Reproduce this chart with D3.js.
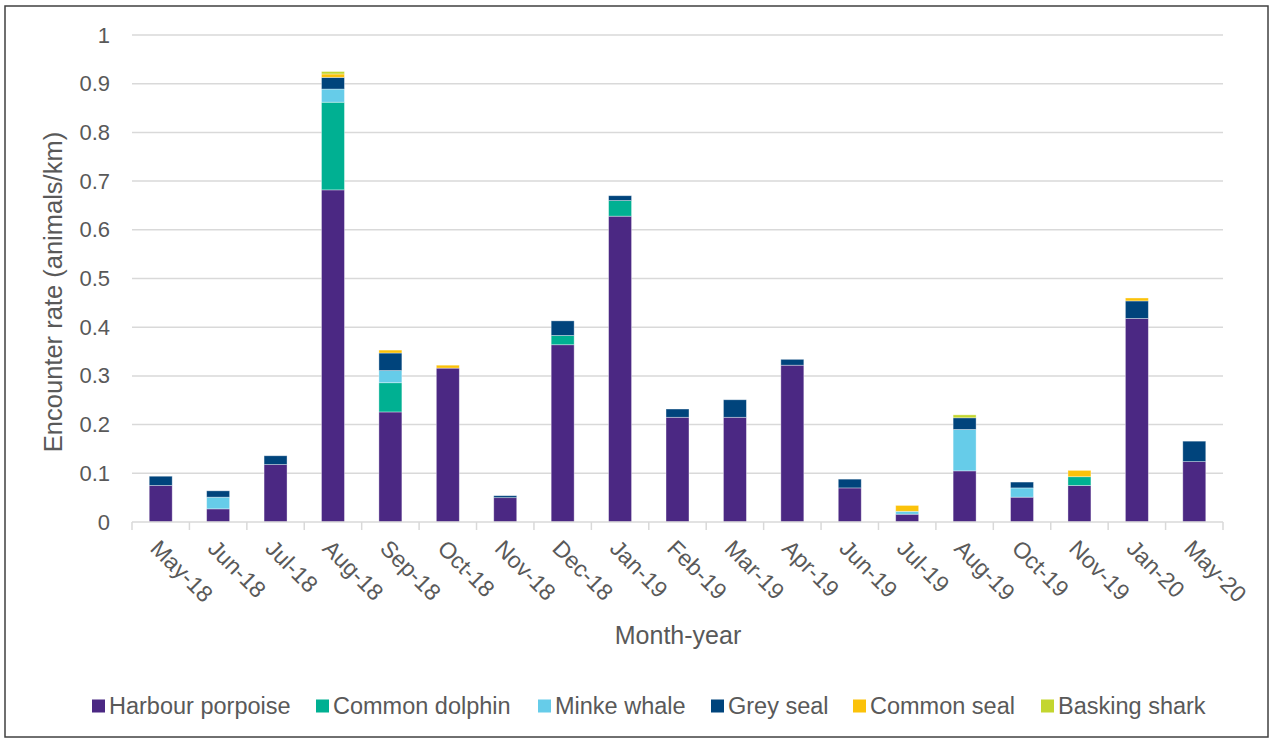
<!DOCTYPE html>
<html>
<head>
<meta charset="utf-8">
<script src="https://cdn.jsdelivr.net/npm/d3@7"></script>
<style>
  body { margin: 0; background: #fff; }
  text { font-family: "Liberation Sans", Arial, sans-serif; fill: #595959; }
</style>
</head>
<body>
<div id="chart"></div>
<script>
let width = 1273
let height = 740

// -- data
let months = ['May-18','Jun-18','Jul-18','Aug-18','Sep-18','Oct-18','Nov-18','Dec-18','Jan-19','Feb-19',
              'Mar-19','Apr-19','Jun-19','Jul-19','Aug-19','Oct-19','Nov-19','Jan-20','May-20']
let harbourPorpoise = [0.075,0.027,0.118,0.682,0.226,0.316,0.050,0.364,0.628,0.215,0.215,0.322,0.070,0.016,0.105,0.051,0.075,0.418,0.124]
let commonDolphin   = [0,0,0,0.180,0.060,0,0,0.019,0.032,0,0,0,0,0,0,0,0.018,0,0]
let minkeWhale      = [0,0.024,0,0.027,0.025,0,0,0,0,0,0,0,0,0.006,0.085,0.019,0,0,0]
let greySeal        = [0.019,0.013,0.018,0.024,0.036,0,0.004,0.030,0.010,0.017,0.036,0.012,0.018,0,0.024,0.012,0,0.036,0.042]
let commonSeal      = [0,0,0,0.007,0.006,0.006,0,0,0,0,0,0,0,0.012,0,0,0.013,0.006,0]
let baskingShark    = [0,0,0,0.005,0,0,0,0,0,0,0,0,0,0,0.006,0,0,0,0]

let seriesNames = ['Harbour porpoise','Common dolphin','Minke whale','Grey seal','Common seal','Basking shark']
let seriesValues = [harbourPorpoise, commonDolphin, minkeWhale, greySeal, commonSeal, baskingShark]
let yTicks = [0,0.1,0.2,0.3,0.4,0.5,0.6,0.7,0.8,0.9,1]

let colors = ['#4b2883','#00b092','#66cce9','#00447c','#fbc20a','#c3d62f']

let plotLeft = 132, plotRight = 1223, plotTop = 35, plotBottom = 522

let svg = d3.select('#chart').append('svg')
            .attr('width', width)
            .attr('height', height)

// outer frame
svg.append('rect')
   .attr('x', 5).attr('y', 6)
   .attr('width', width - 10).attr('height', height - 9)
   .attr('fill', 'none')
   .attr('stroke', '#404040')
   .attr('stroke-width', 1.5)

let xScale = d3.scaleBand()
               .domain(months)
               .range([plotLeft, plotRight])
               .paddingInner(0.6)
               .paddingOuter(0.3)
let step = xScale.step()

let yScale = d3.scaleLinear()
               .domain([0, 1])
               .range([plotBottom, plotTop])

// -- gridlines
svg.append('g')
   .selectAll('line')
   .data(yTicks.slice(1))
   .enter()
   .append('line')
   .attr('x1', plotLeft).attr('x2', plotRight)
   .attr('y1', d => yScale(d)).attr('y2', d => yScale(d))
   .attr('stroke', '#d9d9d9')
   .attr('stroke-width', 1.5)

// -- Y axis labels
let yAxis = d3.axisLeft(yScale)
              .tickValues(yTicks)
              .tickFormat(d => d3.format('')(+d.toFixed(1)))
              .tickSize(0)
              .tickPadding(22)
let yG = svg.append('g')
            .attr('transform', `translate(${plotLeft}, 0)`)
            .call(yAxis)
yG.select('.domain').remove()
yG.selectAll('text')
  .style('font-size', '22px')
  .style('fill', '#595959')
  .style('font-family', '"Liberation Sans", Arial, sans-serif')

// -- stacked bars
let table = months.map((m, i) => {
  let row = { month: m }
  seriesNames.forEach((s, j) => row[s] = seriesValues[j][i])
  return row
})
let stacked = d3.stack().keys(seriesNames)(table)

svg.append('g')
   .selectAll('g')
   .data(stacked)
   .enter()
   .append('g')
   .attr('fill', (d, i) => colors[i])
   .selectAll('rect')
   .data(d => d.filter(p => p[1] - p[0] > 0))
   .enter()
   .append('rect')
   .attr('x', d => xScale(d.data.month))
   .attr('width', xScale.bandwidth())
   .attr('y', d => yScale(d[1]))
   .attr('height', d => yScale(d[0]) - yScale(d[1]))
   .attr('stroke', '#ffffff')
   .attr('stroke-opacity', 0.45)
   .attr('stroke-width', 0.8)

// -- X axis: line, ticks between categories, rotated labels
let xG = svg.append('g')
xG.append('line')
  .attr('x1', plotLeft).attr('x2', plotRight)
  .attr('y1', plotBottom).attr('y2', plotBottom)
  .attr('stroke', '#d9d9d9')
  .attr('stroke-width', 1.5)

let boundaries = months.map(m => xScale(m) + xScale.bandwidth() / 2 - step / 2)
boundaries.push(plotRight)
xG.selectAll('.tick')
  .data(boundaries)
  .enter()
  .append('line')
  .attr('class', 'tick')
  .attr('x1', d => d).attr('x2', d => d)
  .attr('y1', plotBottom).attr('y2', plotBottom + 8)
  .attr('stroke', '#d9d9d9')
  .attr('stroke-width', 1.5)

xG.selectAll('.xlabel')
  .data(months)
  .enter()
  .append('text')
  .attr('class', 'xlabel')
  .attr('transform', d => `translate(${xScale(d) + xScale.bandwidth() / 2 + 3}, ${plotBottom + 13}) rotate(45)`)
  .attr('dy', '0.9em')
  .style('font-size', '23px')
  .text(d => d)

// -- axis titles
svg.append('text')
   .attr('transform', 'translate(62, 292) rotate(-90)')
   .attr('text-anchor', 'middle')
   .style('font-size', '25.5px')
   .text('Encounter rate (animals/km)')

svg.append('text')
   .attr('x', 678).attr('y', 644)
   .attr('text-anchor', 'middle')
   .style('font-size', '25px')
   .text('Month-year')

// -- legend
let legendX = [92, 316, 538, 711, 853, 1041]
let legend = svg.append('g')
                .selectAll('g')
                .data(seriesNames)
                .enter()
                .append('g')
                .attr('transform', (d, i) => `translate(${legendX[i]}, 706)`)
legend.append('rect')
      .attr('x', 0).attr('y', -6.5)
      .attr('width', 13).attr('height', 13)
      .attr('fill', (d, i) => colors[i])
legend.append('text')
      .attr('x', 17).attr('y', 8)
      .style('font-size', '23.5px')
      .text(d => d)
</script>
</body>
</html>
